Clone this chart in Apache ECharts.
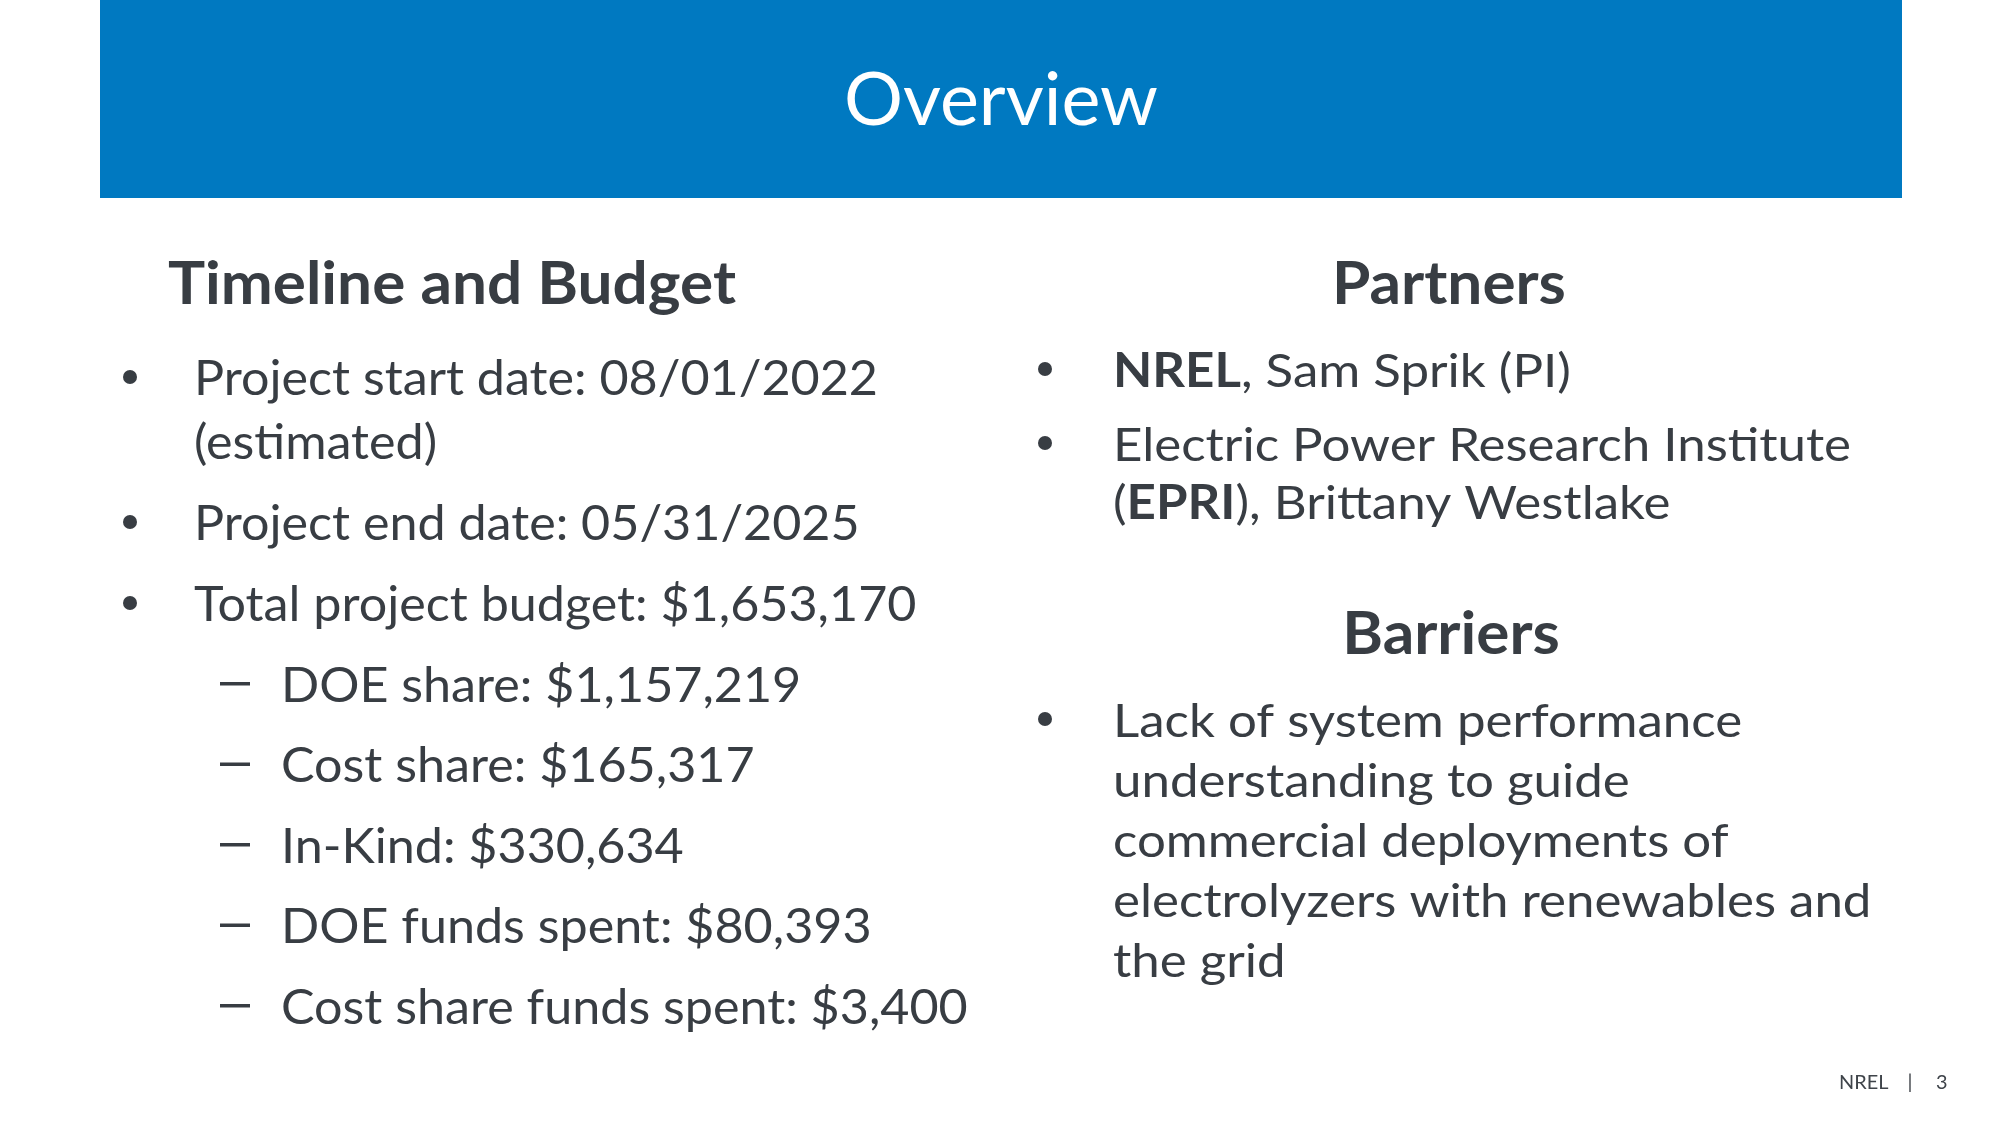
<!DOCTYPE html>
<html>
<head>
<meta charset="utf-8">
<script src="https://cdn.jsdelivr.net/npm/echarts@6/dist/echarts.min.js"></script>
<style>
html,body{margin:0;padding:0;background:#ffffff;}
#chart{width:2000px;height:1125px;}
</style>
</head>
<body>
<div id="chart"></div>
<script>
// ---- content (text data) ----
const slideTitle = 'Overview';
const leftHeading = 'Timeline and Budget';
const timelineItems = [
  ['Project start date: 08/01/2022', '(estimated)'],
  ['Project end date: 05/31/2025'],
  ['Total project budget: $1,653,170']
];
const budgetItems = [
  'DOE share: $1,157,219',
  'Cost share: $165,317',
  'In-Kind: $330,634',
  'DOE funds spent: $80,393',
  'Cost share funds spent: $3,400'
];
const partnersHeading = 'Partners';
const partnerItems = [
  ['{b|NREL}{n|, Sam Sprik (PI)}'],
  ['{n|Electric Power Research Institute}', '{n|(}{b|EPRI}{n|), Brittany Westlake}']
];
const barriersHeading = 'Barriers';
const barrierItems = [
  ['Lack of system performance', 'understanding to guide', 'commercial deployments of',
   'electrolyzers with renewables and', 'the grid']
];
const footerParts = ['NREL', '|', '3'];

// ---- style / layout ----
const FONT = 'Lato';
const TEXT_COLOR = '#383d43';
const BLUE = '#0079c1';
const TITLE_FS = 74, HEAD_FS = 60, BODY_FS = 48, RIGHT_FS = 47, FOOT_FS = 19;

const cvs = document.createElement('canvas').getContext('2d');
function fontStr(size, weight) { return (weight || 'normal') + ' ' + size + 'px ' + FONT; }
function measure(text, size, weight) { cvs.font = fontStr(size, weight); return cvs.measureText(text).width; }
function baseOff(size, weight) {
  cvs.font = fontStr(size, weight);
  cvs.textBaseline = 'middle';
  const m = cvs.measureText('H');
  cvs.textBaseline = 'alphabetic';
  return m.actualBoundingBoxDescent;
}

// horizontal condensing factors (to imitate the narrower original face)
const sxTitle = 314 / measure(slideTitle, TITLE_FS);
const sxHead = 568 / measure(leftHeading, HEAD_FS, 'bold');
const sxLeft = 684 / measure(timelineItems[0][0], BODY_FS);
const sxRight = 738 / measure('Electric Power Research Institute', RIGHT_FS);
const sxFoot = sxLeft;

const graphics = [];
function addText(t, x, baseline, size, weight, align, sx, color, rich) {
  const el = {
    type: 'text',
    x: x,
    y: baseline - baseOff(size, weight),
    scaleX: sx,
    style: {
      text: t,
      x: 0, y: 0,
      fill: color || TEXT_COLOR,
      fontSize: size,
      fontFamily: FONT,
      fontWeight: weight || 'normal',
      align: align || 'left',
      verticalAlign: 'middle'
    }
  };
  if (rich) el.style.rich = rich;
  graphics.push(el);
}
function addDot(x, baseline) {
  graphics.push({ type: 'circle', shape: { cx: x, cy: baseline - 18, r: 7 }, style: { fill: TEXT_COLOR } });
}
function addDash(x, baseline) {
  graphics.push({ type: 'rect', shape: { x: x, y: baseline - 19.5, width: 30, height: 3.5 }, style: { fill: TEXT_COLOR } });
}

// header band
graphics.push({ type: 'rect', shape: { x: 100, y: 0, width: 1802, height: 198 }, style: { fill: BLUE } });
addText(slideTitle, 1001, 125, TITLE_FS, 'normal', 'center', sxTitle, '#ffffff');

// left column
addText(leftHeading, 168, 304, HEAD_FS, 'bold', 'left', sxHead);
let y = 395;
timelineItems.forEach(function (item, i) {
  if (i > 0) y += 81;
  addDot(130, y);
  item.forEach(function (line, j) {
    if (j > 0) y += 64;
    addText(line, 194, y, BODY_FS, 'normal', 'left', sxLeft);
  });
});
budgetItems.forEach(function (line) {
  y += 80.5;
  addDash(220, y);
  addText(line, 281, y, BODY_FS, 'normal', 'left', sxLeft);
});

// right column
const richR = {
  n: { fontSize: RIGHT_FS, fontFamily: FONT, fontWeight: 'normal', fill: TEXT_COLOR },
  b: { fontSize: RIGHT_FS, fontFamily: FONT, fontWeight: 'bold', fill: TEXT_COLOR }
};
addText(partnersHeading, 1449, 304, HEAD_FS, 'bold', 'center', sxHead);
y = 387;
partnerItems.forEach(function (item, i) {
  if (i > 0) y += 74;
  addDot(1045, y);
  item.forEach(function (line, j) {
    if (j > 0) y += 58;
    addText(line, 1113, y, RIGHT_FS, 'normal', 'left', sxRight, TEXT_COLOR, richR);
  });
});
addText(barriersHeading, 1451, 654, HEAD_FS, 'bold', 'center', sxHead);
y = 737;
barrierItems.forEach(function (item) {
  addDot(1045, y);
  item.forEach(function (line, j) {
    if (j > 0) y += 60;
    addText(line, 1113, y, RIGHT_FS, 'normal', 'left', sxRight);
  });
});

// footer
addText(footerParts[0], 1839, 1089, FOOT_FS, 'normal', 'left', sxFoot, '#3f444a');
addText(footerParts[1], 1910, 1089, FOOT_FS, 'normal', 'center', sxFoot, '#3f444a');
addText(footerParts[2], 1936, 1089, FOOT_FS, 'normal', 'left', sxFoot, '#3f444a');

const chart = echarts.init(document.getElementById('chart'), null, { renderer: 'canvas' });
chart.setOption({
  backgroundColor: '#ffffff',
  animation: false,
  graphic: { elements: graphics }
});
</script>
</body>
</html>
